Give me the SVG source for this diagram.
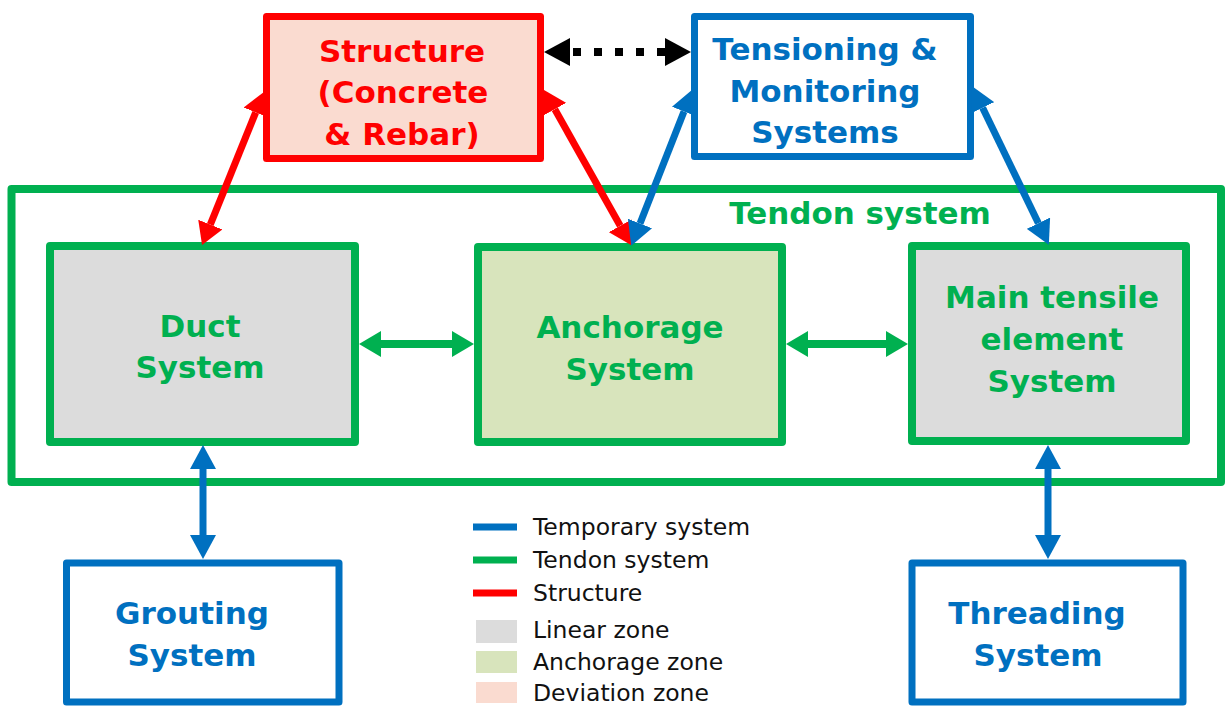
<svg xmlns="http://www.w3.org/2000/svg" width="1225" height="706" viewBox="0 0 1225 706">
<defs>
<style>
.box{stroke-linejoin:round;}
.g{stroke:#00B050;stroke-width:8;}
.b{stroke:#0070C0;stroke-width:7;}
.r{stroke:#FF0000;stroke-width:7;}
.t{font-family:"DejaVu Sans","Verdana",sans-serif;font-weight:bold;font-size:31px;text-anchor:middle;}
.tg{fill:#00B050;}
.tb{fill:#0070C0;}
.tr{fill:#FF0000;}
.leg{font-family:"DejaVu Sans","Verdana",sans-serif;font-size:23.5px;fill:#111;}
.conn{fill:none;}
</style>
<marker id="hR" markerUnits="userSpaceOnUse" viewBox="0 -13 22 26" refX="0" refY="0" markerWidth="22" markerHeight="26" orient="auto-start-reverse"><path d="M0,-13 L22,0 L0,13 z" fill="#FF0000"/></marker>
<marker id="hB" markerUnits="userSpaceOnUse" viewBox="0 -13 24 26" refX="0" refY="0" markerWidth="24" markerHeight="26" orient="auto-start-reverse"><path d="M0,-13 L24,0 L0,13 z" fill="#0070C0"/></marker>
<marker id="hG" markerUnits="userSpaceOnUse" viewBox="0 -13 22 26" refX="0" refY="0" markerWidth="22" markerHeight="26" orient="auto-start-reverse"><path d="M0,-13 L22,0 L0,13 z" fill="#00B050"/></marker>
<marker id="hK" markerUnits="userSpaceOnUse" viewBox="0 -14 26 28" refX="0" refY="0" markerWidth="26" markerHeight="28" orient="auto-start-reverse"><path d="M0,-14 L26,0 L0,14 z" fill="#000"/></marker>
</defs>
<rect width="1225" height="706" fill="#fff"/>

<g id="tendon-system">
<rect class="box g" x="11.5" y="189" width="1209.5" height="293" fill="none"/>
<text class="t tg" x="860" y="224">Tendon system</text>
</g>

<g id="structure">
<rect class="box r" x="266.5" y="16.5" width="274" height="142" fill="#FADBD0"/>
<text class="t tr" x="402" y="62">Structure</text>
<text class="t tr" x="403" y="103">(Concrete</text>
<text class="t tr" x="402" y="145">&amp; Rebar)</text>
</g>

<g id="tensioning">
<rect class="box b" x="694.5" y="16.5" width="276" height="140" fill="#fff"/>
<text class="t tb" x="825" y="60">Tensioning &amp;</text>
<text class="t tb" x="825" y="102">Monitoring</text>
<text class="t tb" x="825" y="143">Systems</text>
</g>

<g id="duct">
<rect class="box g" x="50" y="246" width="305" height="196" fill="#DCDCDC"/>
<text class="t tg" x="200" y="337">Duct</text>
<text class="t tg" x="200" y="378">System</text>
</g>

<g id="anchorage">
<rect class="box g" x="478" y="247" width="304" height="195" fill="#D8E4BC"/>
<text class="t tg" x="630" y="338">Anchorage</text>
<text class="t tg" x="630" y="380">System</text>
</g>

<g id="main-tensile">
<rect class="box g" x="912" y="246" width="274" height="195" fill="#DCDCDC"/>
<text class="t tg" x="1052" y="308">Main tensile</text>
<text class="t tg" x="1052" y="350">element</text>
<text class="t tg" x="1052" y="392">System</text>
</g>

<g id="grouting">
<rect class="box b" x="66.5" y="563" width="272.5" height="139" fill="#fff"/>
<text class="t tb" x="192" y="624">Grouting</text>
<text class="t tb" x="192" y="666">System</text>
</g>

<g id="threading">
<rect class="box b" x="912" y="563" width="271" height="139" fill="#fff"/>
<text class="t tb" x="1037" y="624">Threading</text>
<text class="t tb" x="1038" y="666">System</text>
</g>

<g id="connectors" class="conn">
<path class="r" d="M255.7,112.4 L210.3,224.6" marker-start="url(#hR)" marker-end="url(#hR)"/>
<path class="r" d="M554.8,109.2 L620.2,225.8" marker-start="url(#hR)" marker-end="url(#hR)"/>
<path class="b" d="M684,111.5 L640,223.5" marker-start="url(#hB)" marker-end="url(#hB)"/>
<path class="b" d="M982.6,107.8 L1038.4,223.2" marker-start="url(#hB)" marker-end="url(#hB)"/>
<path class="g" d="M381,344 L452,344" stroke-width="7" marker-start="url(#hG)" marker-end="url(#hG)"/>
<path class="g" d="M808,344 L886,344" stroke-width="7" marker-start="url(#hG)" marker-end="url(#hG)"/>
<path class="b" d="M203,469 L203,535" marker-start="url(#hB)" marker-end="url(#hB)"/>
<path class="b" d="M1048,469 L1048,535" marker-start="url(#hB)" marker-end="url(#hB)"/>
<path d="M570,52 L665,52" stroke="#000" stroke-width="8" stroke-dasharray="8 13" stroke-dashoffset="-3" marker-start="url(#hK)" marker-end="url(#hK)"/>
</g>

<g id="legend">
<line x1="473" y1="527" x2="517" y2="527" stroke="#0070C0" stroke-width="7"/>
<line x1="473" y1="560" x2="517" y2="560" stroke="#00B050" stroke-width="7"/>
<line x1="473" y1="593" x2="517" y2="593" stroke="#FF0000" stroke-width="7"/>
<rect x="476" y="620" width="41" height="23" fill="#DCDCDC"/>
<rect x="476" y="651" width="41" height="22" fill="#D8E4BC"/>
<rect x="476" y="682" width="41" height="21" fill="#FADBD0"/>
<text class="leg" x="533" y="535">Temporary system</text>
<text class="leg" x="533" y="568">Tendon system</text>
<text class="leg" x="533" y="601">Structure</text>
<text class="leg" x="533" y="638">Linear zone</text>
<text class="leg" x="533" y="670">Anchorage zone</text>
<text class="leg" x="533" y="701">Deviation zone</text>
</g>
</svg>
